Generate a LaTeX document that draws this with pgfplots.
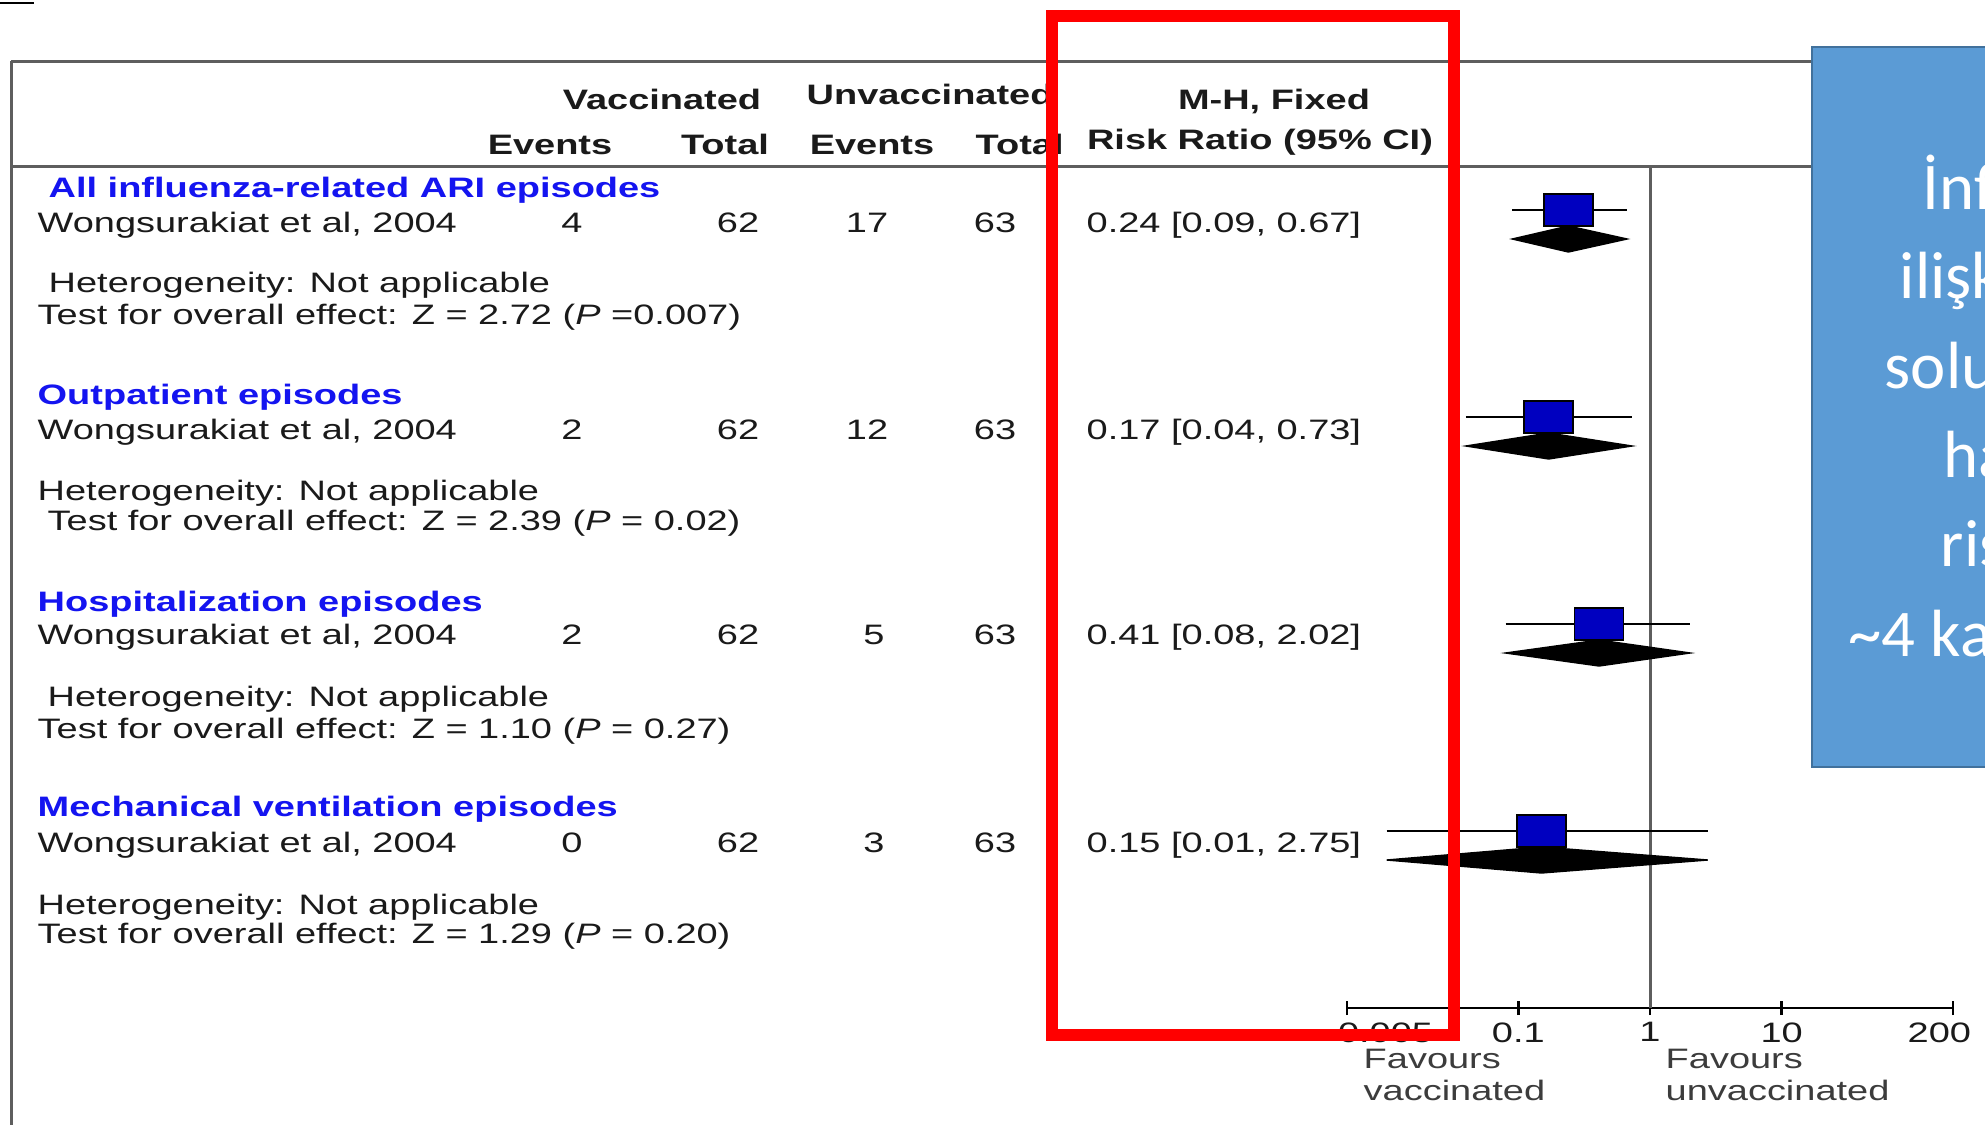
\documentclass[border=0pt]{standalone}
\usepackage{fontspec}
\setmainfont{Liberation Sans}
\newfontfamily\calibri{Carlito}
\usepackage{graphicx}
\usepackage{pgfplots}
\pgfplotsset{compat=1.18}
\usepackage{pgfplotstable}

\definecolor{rmtext}{HTML}{1A1A1A}
\definecolor{rmhead}{HTML}{1414F0}
\definecolor{sqblue}{HTML}{0000C0}
\definecolor{rulegray}{HTML}{5E5E5E}
\definecolor{calloutfill}{HTML}{5B9BD5}
\definecolor{calloutedge}{HTML}{41719C}

% RevMan-style text: Arial metrics, stretched horizontally
\newcommand{\tf}{\fontsize{8}{9.6}\selectfont}
\newcommand{\W}[1]{\scalebox{1.35}[1]{\tf #1}}
\newcommand{\B}[1]{\scalebox{1.35}[1]{\tf\bfseries #1}}

% y = vertical position of each study row (drawn at -y), risk ratio and 95% CI
\pgfplotstableread{
y    rr    lo    hi
210  0.24  0.09  0.67
417  0.17  0.04  0.73
624  0.41  0.08  2.02
831  0.15  0.01  2.75
}\studies

\begin{document}
\begin{tikzpicture}[x=0.1mm, y=-0.1mm]
\useasboundingbox (0,0) rectangle (1985,1124);
\fill[white] (0,0) rectangle (1985,1124);
\clip (0,0) rectangle (1985,1124);

% table rules
\draw[black, line width=0.2mm] (0,3) -- (34,3);
\draw[rulegray, line width=0.3mm] (11,61) -- (1812,61);
\draw[rulegray, line width=0.3mm] (11,166) -- (1812,166);
\draw[rulegray, line width=0.3mm] (11,61) -- (11,1130);

\begin{axis}[
  at={(134.7mm,-100.8mm)}, anchor=south west,
  scale only axis, width=60.6mm, height=84.2mm,
  xmode=log, xmin=0.005, xmax=200,
  ymin=-1008, ymax=-166,
  axis x line*=bottom, axis y line=none,
  x axis line style={black, line width=0.25mm},
  xtick={0.005,0.1,1,10,200},
  xticklabels={\makebox[0pt][l]{\hspace{-0.9mm}\W{0.005}},\W{0.1},\W{1},\W{10},
               \makebox[0pt][r]{\W{200}\hspace{-1.8mm}}},
  xticklabel style={text=rmtext, yshift=0.5mm},
  major tick length=1.4mm, tick align=center,
  xtick style={black, line width=0.25mm},
  minor xtick={},
  ytick=\empty,
  clip=false,
]
% line of no effect
\addplot[rulegray, line width=0.3mm] coordinates {(1,-166) (1,-1008)};

% confidence intervals
\addplot[black, line width=0.2mm] coordinates {(0.09,-210) (0.67,-210)};
\addplot[black, line width=0.2mm] coordinates {(0.04,-417) (0.73,-417)};
\addplot[black, line width=0.2mm] coordinates {(0.08,-624) (2.02,-624)};
\addplot[black, line width=0.2mm] coordinates {(0.01,-831) (2.75,-831)};

% study estimates
\addplot[only marks, mark=square*, mark size=1.6mm,
  mark options={xscale=1.53, fill=sqblue, draw=black, line width=0.15mm}]
  table[x=rr, y expr=-\thisrow{y}] {\studies};

% pooled estimates
\addplot[fill=black, draw=black] coordinates {(0.09,-239) (0.24,-226) (0.67,-239) (0.24,-252)} -- cycle;
\addplot[fill=black, draw=black] coordinates {(0.04,-446) (0.17,-433) (0.73,-446) (0.17,-459)} -- cycle;
\addplot[fill=black, draw=black] coordinates {(0.08,-653) (0.41,-640) (2.02,-653) (0.41,-666)} -- cycle;
\addplot[fill=black, draw=black] coordinates {(0.01,-860) (0.15,-847) (2.75,-860) (0.15,-873)} -- cycle;
\end{axis}

\begin{scope}[every node/.style={inner sep=0pt, text=rmtext}]
% column headers
\node[anchor=base] at (662,109) {\B{Vaccinated}};
\node[anchor=base west] at (806,104) {\B{Unvaccinated}};
\node[anchor=base] at (1274,109) {\B{M-H, Fixed}};
\node[anchor=base] at (550,154) {\B{Events}};
\node[anchor=base] at (725,154) {\B{Total}};
\node[anchor=base] at (872,154) {\B{Events}};
\node[anchor=base west] at (975,154) {\B{Total}};
\node[anchor=base] at (1260,149) {\B{Risk Ratio (95\% CI)}};

% All influenza-related ARI episodes
\node[anchor=base west, text=rmhead] at (48,197) {\B{All influenza-related ARI episodes}};
\node[anchor=base west] at (37,232) {\W{Wongsurakiat et al, 2004}};
\node[anchor=base] at (572,232) {\W{4}};
\node[anchor=base] at (738,232) {\W{62}};
\node[anchor=base] at (867,232) {\W{17}};
\node[anchor=base] at (995,232) {\W{63}};
\node[anchor=base west] at (1086,232) {\W{0.24 [0.09, 0.67]}};
\node[anchor=base west] at (48,292) {\W{Heterogeneity: Not applicable}};
\node[anchor=base west] at (37,324) {\W{Test for overall effect: Z = 2.72 (\textit{P} =0.007)}};

% Outpatient episodes
\node[anchor=base west, text=rmhead] at (37,404) {\B{Outpatient episodes}};
\node[anchor=base west] at (37,439) {\W{Wongsurakiat et al, 2004}};
\node[anchor=base] at (572,439) {\W{2}};
\node[anchor=base] at (738,439) {\W{62}};
\node[anchor=base] at (867,439) {\W{12}};
\node[anchor=base] at (995,439) {\W{63}};
\node[anchor=base west] at (1086,439) {\W{0.17 [0.04, 0.73]}};
\node[anchor=base west] at (37,500) {\W{Heterogeneity: Not applicable}};
\node[anchor=base west] at (47,530) {\W{Test for overall effect: Z = 2.39 (\textit{P} = 0.02)}};

% Hospitalization episodes
\node[anchor=base west, text=rmhead] at (37,611) {\B{Hospitalization episodes}};
\node[anchor=base west] at (37,644) {\W{Wongsurakiat et al, 2004}};
\node[anchor=base] at (572,644) {\W{2}};
\node[anchor=base] at (738,644) {\W{62}};
\node[anchor=base] at (874,644) {\W{5}};
\node[anchor=base] at (995,644) {\W{63}};
\node[anchor=base west] at (1086,644) {\W{0.41 [0.08, 2.02]}};
\node[anchor=base west] at (47,706) {\W{Heterogeneity: Not applicable}};
\node[anchor=base west] at (37,738) {\W{Test for overall effect: Z = 1.10 (\textit{P} = 0.27)}};

% Mechanical ventilation episodes
\node[anchor=base west, text=rmhead] at (37,816) {\B{Mechanical ventilation episodes}};
\node[anchor=base west] at (37,852) {\W{Wongsurakiat et al, 2004}};
\node[anchor=base] at (572,852) {\W{0}};
\node[anchor=base] at (738,852) {\W{62}};
\node[anchor=base] at (874,852) {\W{3}};
\node[anchor=base] at (995,852) {\W{63}};
\node[anchor=base west] at (1086,852) {\W{0.15 [0.01, 2.75]}};
\node[anchor=base west] at (37,914) {\W{Heterogeneity: Not applicable}};
\node[anchor=base west] at (37,943) {\W{Test for overall effect: Z = 1.29 (\textit{P} = 0.20)}};

% axis captions
\node[anchor=base west, text=rmtext!85] at (1363,1068) {\W{Favours}};
\node[anchor=base west, text=rmtext!85] at (1363,1100) {\W{vaccinated}};
\node[anchor=base west, text=rmtext!85] at (1665,1068) {\W{Favours}};
\node[anchor=base west, text=rmtext!85] at (1665,1100) {\W{unvaccinated}};
\end{scope}

% callout box
\fill[calloutfill, draw=calloutedge, line width=0.25mm] (1812,47) rectangle (2400,767);
\begin{scope}[every node/.style={inner sep=0pt, anchor=base west, text=white,
    font=\calibri\fontsize{19}{23}\selectfont}]
\node at (1922,209) {İnfluenza};
\node at (1899,298) {ilişkili};
\node at (1884,388) {solunum yolu};
\node at (1943,477) {hastalığı};
\node at (1940,566) {riski};
\node at (1848,656) {\textasciitilde4 kat azalıyor};
\end{scope}

% highlight frame
\draw[red, line width=1.2mm] (1052,16) rectangle (1454,1035);
\end{tikzpicture}
\end{document}
